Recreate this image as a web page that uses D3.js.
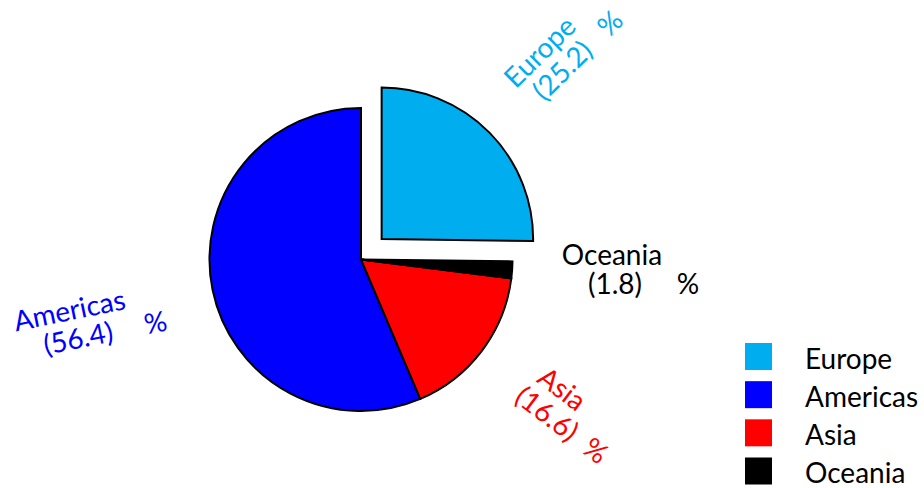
<!DOCTYPE html>
<html>
<head>
<meta charset="utf-8">
<script src="https://cdn.jsdelivr.net/npm/d3@7"></script>
<style>
	html, body { margin: 0; padding: 0; background: #fff; }
	text { font-family: Lato, "Open Sans", sans-serif; }
</style>
</head>
<body>
<svg id="chart" width="924" height="488"></svg>
<script>
// chart data
var regions = ['Europe', 'Americas', 'Asia', 'Oceania'];
var shares = [25.2, 56.4, 16.6, 1.8];
var colors = ['#00aeef', '#0000ff', '#ff0000', '#000000'];
var pieOrder = ['Europe', 'Oceania', 'Asia', 'Americas'];
var exploded = ['Europe'];

var width = 924, height = 488;
var cx = 361, cy = 259.5, radius = 151.5;
var explodeDist = 29;
var fontSize = 28;
var lineGap = 29;

// label placement: distance from centre, angle tweak (deg), gap to the % sign
var labelLayout = {
	Europe:   { dist: 274, dA: -4.6, pct: 70 },
	Oceania:  { dist: 251, dA: -5.0, pct: 76 },
	Asia:     { dist: 239, dA: -4.3, pct: 64 },
	Americas: { dist: 296, dA: 1.6,  pct: 82 }
};

var data = regions.map(function(name, i) {
	return { name: name, value: shares[i] };
});

var svg = d3.select('#chart');
var color = d3.scaleOrdinal().domain(regions).range(colors);

var pie = d3.pie()
	.value(function(d) { return d.value; })
	.sort(function(a, b) { return pieOrder.indexOf(a.name) - pieOrder.indexOf(b.name); })
	.startAngle(0)
	.endAngle(2 * Math.PI);

var arc = d3.arc().innerRadius(0).outerRadius(radius);
var arcs = pie(data);

function offsetFor(d) {
	if (exploded.indexOf(d.data.name) < 0) return [0, 0];
	var mid = (d.startAngle + d.endAngle) / 2;
	return [Math.sin(mid) * explodeDist, -Math.cos(mid) * explodeDist];
}

var pieG = svg.append('g').attr('transform', 'translate(' + cx + ',' + cy + ')');

pieG.selectAll('path')
	.data(arcs)
	.join('path')
		.attr('d', arc)
		.attr('transform', function(d) { var o = offsetFor(d); return 'translate(' + o[0] + ',' + o[1] + ')'; })
		.style('fill', function(d) { return color(d.data.name); })
		.style('stroke', '#000')
		.style('stroke-width', 2)
		.style('stroke-linejoin', 'miter');

// rotated labels, turned along each slice's middle
var labels = pieG.selectAll('g.label')
	.data(arcs)
	.join('g')
		.attr('class', 'label')
		.attr('transform', function(d) {
			var lay = labelLayout[d.data.name];
			var mid = (d.startAngle + d.endAngle) / 2;
			var a = mid + lay.dA * Math.PI / 180;
			var x = Math.sin(a) * lay.dist, y = -Math.cos(a) * lay.dist;
			var rot = 90 - mid * 180 / Math.PI; // math angle
			if (Math.cos(mid - Math.PI / 2) < 0) rot += 180; // left side: flip
			rot = ((rot + 180) % 360 + 360) % 360 - 180;
			if (Math.abs(rot) < 5) rot = 0;
			return 'translate(' + x + ',' + y + ') rotate(' + (-rot) + ')';
		})
		.style('fill', function(d) { return color(d.data.name); })
		.style('font-size', fontSize + 'px');

labels.append('text')
	.attr('text-anchor', 'middle')
	.attr('dy', '0.35em')
	.text(function(d) { return d.data.name; });

labels.append('text')
	.attr('text-anchor', 'middle')
	.attr('x', 3)
	.attr('y', lineGap)
	.attr('dy', '0.35em')
	.text(function(d) { return '(' + d.data.value.toFixed(1) + ')'; });

labels.append('text')
	.attr('text-anchor', 'middle')
	.attr('x', function(d) { return labelLayout[d.data.name].pct; })
	.attr('y', lineGap)
	.attr('dy', '0.35em')
	.text('%');

// legend
var legendY = d3.scalePoint().domain(regions).range([356.5, 471]);
var legend = svg.append('g').attr('class', 'legend');
var items = legend.selectAll('g')
	.data(regions)
	.join('g')
		.attr('transform', function(d) { return 'translate(745,' + legendY(d) + ')'; });

items.append('rect')
	.attr('x', 0)
	.attr('y', -13.5)
	.attr('width', 27)
	.attr('height', 27)
	.style('fill', function(d) { return color(d); });

items.append('text')
	.attr('x', 60)
	.attr('y', 12)
	.style('font-size', fontSize + 'px')
	.style('fill', '#000')
	.text(function(d) { return d; });
</script>
</body>
</html>
